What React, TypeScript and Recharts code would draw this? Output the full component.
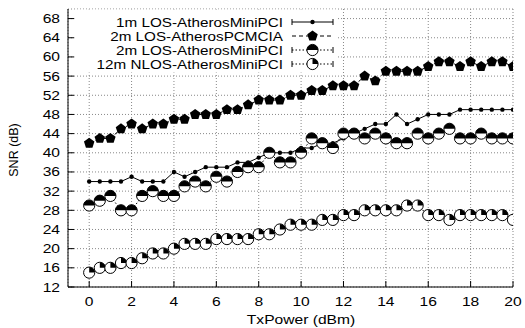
import React from 'react';
import { LineChart, Line, XAxis, YAxis, CartesianGrid } from 'recharts';

const txPower = [
  0, 0.5, 1, 1.5, 2, 2.5, 3, 3.5, 4, 4.5, 5, 5.5, 6, 6.5, 7, 7.5, 8, 8.5, 9, 9.5, 10,
  10.5, 11, 11.5, 12, 12.5, 13, 13.5, 14, 14.5, 15, 15.5, 16, 16.5, 17, 17.5, 18, 18.5, 19, 19.5, 20,
];
const los1mMiniPci = [
  34, 34, 34, 34, 35, 34, 34, 34, 36, 35, 36, 37, 37, 37, 38, 38, 39, 40, 40, 40, 41,
  41, 42, 42, 43, 44, 45, 46, 46, 48, 46, 47, 48, 48, 48, 49, 49, 49, 49, 49, 49,
];
const los2mPcmcia = [
  42, 43, 43, 45, 46, 45, 46, 46, 47, 47, 48, 48, 48, 49, 49, 50, 51, 51, 51, 52, 52,
  53, 53, 54, 54, 54, 56, 55, 57, 57, 57, 57, 58, 59, 59, 58, 59, 58, 59, 59, 58,
];
const los2mMiniPci = [
  29, 30, 31, 28, 28, 31, 32, 31, 31, 33, 34, 33, 35, 34, 36, 37, 37, 40, 38, 38, 40,
  43, 42, 41, 44, 44, 43, 44, 43, 42, 42, 44, 43, 44, 45, 43, 43, 44, 43, 43, 43,
];
const nlos12mMiniPci = [
  15, 16, 16, 17, 17, 18, 19, 19, 20, 21, 21, 21, 22, 22, 22, 22, 23, 23, 24, 25, 25,
  25, 26, 26, 27, 27, 28, 28, 28, 28, 29, 29, 27, 27, 26, 27, 27, 27, 27, 27, 26,
];
const xTicks = [0, 2, 4, 6, 8, 10, 12, 14, 16, 18, 20];
const yTicks = [12, 16, 20, 24, 28, 32, 36, 40, 44, 48, 52, 56, 60, 64, 68];
const seriesNames = [
  '1m LOS-AtherosMiniPCI',
  '2m LOS-AtherosPCMCIA',
  '2m LOS-AtherosMiniPCI',
  '12m NLOS-AtherosMiniPCI',
];

const W = 525;
const H = 328;
const FONT = '"Liberation Sans", Arial, sans-serif';
const SX = 1.25; // source image is stretched sideways, text too
const FS = 12.5;

const data = txPower.map((x, i) => ({
  x,
  a: los1mMiniPci[i],
  b: los2mPcmcia[i],
  c: los2mMiniPci[i],
  d: nlos12mMiniPci[i],
}));

// point shapes (gnuplot-ish)
const SmallDot = ({ cx, cy }: any) =>
  cx == null ? null : <circle cx={cx} cy={cy} r={2.2} fill="#000" />;

const Pentagon = ({ cx, cy }: any) => {
  if (cx == null) return null;
  const r = 5.5;
  const pts = [0, 1, 2, 3, 4]
    .map((k) => {
      const a = -Math.PI / 2 + (k * 2 * Math.PI) / 5;
      return `${cx + r * Math.cos(a)},${cy + r * Math.sin(a)}`;
    })
    .join(' ');
  return <polygon points={pts} fill="#000" />;
};

const HalfCircle = ({ cx, cy }: any) => {
  if (cx == null) return null;
  const r = 5.6;
  return (
    <g>
      <circle cx={cx} cy={cy} r={r} fill="#fff" stroke="#000" strokeWidth={1} />
      <path d={`M${cx - r},${cy} A${r},${r} 0 0 1 ${cx + r},${cy} Z`} fill="#000" />
    </g>
  );
};

const QuarterCircle = ({ cx, cy }: any) => {
  if (cx == null) return null;
  const r = 5.6;
  return (
    <g>
      <circle cx={cx} cy={cy} r={r} fill="#fff" stroke="#000" strokeWidth={1} />
      <path d={`M${cx},${cy} L${cx},${cy - r} A${r},${r} 0 0 1 ${cx + r},${cy} Z`} fill="#000" />
    </g>
  );
};

// ticks drawn inward, like gnuplot
const BottomTick = ({ x, y, payload }: any) => (
  <g>
    <line x1={x} x2={x} y1={y} y2={y - 6} stroke="#000" />
    <text
      transform={`translate(${x},${y + 19}) scale(${SX},1)`}
      textAnchor="middle"
      fontSize={FS}
      fontFamily={FONT}
      fill="#000"
    >
      {payload.value}
    </text>
  </g>
);
const TopTick = ({ x, y }: any) => <line x1={x} x2={x} y1={y} y2={y + 6} stroke="#000" />;
const LeftTick = ({ x, y, payload }: any) => (
  <g>
    <line x1={x} x2={x + 6} y1={y} y2={y} stroke="#000" />
    <text
      transform={`translate(${x - 8},${y + 4.5}) scale(${SX},1)`}
      textAnchor="end"
      fontSize={FS}
      fontFamily={FONT}
      fill="#000"
    >
      {payload.value}
    </text>
  </g>
);
const RightTick = ({ x, y }: any) => <line x1={x} x2={x - 6} y1={y} y2={y} stroke="#000" />;

const legendRows = [
  { y: 22, dash: undefined, Shape: SmallDot },
  { y: 36, dash: '4 3', Shape: Pentagon },
  { y: 50, dash: '1.5 2', Shape: HalfCircle },
  { y: 64, dash: '1.5 2', Shape: QuarterCircle },
];

function Overlay() {
  return (
    <svg width={W} height={H} style={{ position: 'absolute', left: 0, top: 0, pointerEvents: 'none' }}>
      <rect x={74.5} y={9.5} width={263} height={63} fill="#fff" />
      {legendRows.map((r, i) => (
        <g key={i}>
          <text
            transform={`translate(283,${r.y + 4.5}) scale(1.22,1)`}
            textAnchor="end"
            fontSize={12.5}
            fontFamily={FONT}
            fill="#000"
          >
            {seriesNames[i]}
          </text>
          <line x1={292} x2={333} y1={r.y} y2={r.y} stroke="#000" strokeDasharray={r.dash} />
          {i !== 1 && (
            <>
              <line x1={292} x2={292} y1={r.y - 3} y2={r.y + 3} stroke="#000" />
              <line x1={333} x2={333} y1={r.y - 3} y2={r.y + 3} stroke="#000" />
            </>
          )}
          <r.Shape cx={312.5} cy={r.y} />
        </g>
      ))}
      <text
        transform={`translate(18,150) rotate(-90)`}
        textAnchor="middle"
        fontSize={FS}
        fontFamily={FONT}
        fill="#000"
      >
        SNR (dB)
      </text>
      <text
        transform={`translate(301,324) scale(${SX},1)`}
        textAnchor="middle"
        fontSize={FS}
        fontFamily={FONT}
        fill="#000"
      >
        TxPower (dBm)
      </text>
    </svg>
  );
}

export default function App() {
  return (
    <div style={{ position: 'absolute', left: 0, top: 0, width: W, height: H, background: '#fff' }}>
      <LineChart width={W} height={H} data={data} margin={{ top: 9, right: 12, left: 0, bottom: 0 }}>
        <CartesianGrid stroke="#888" strokeDasharray="1 2" />
        <XAxis
          dataKey="x"
          type="number"
          domain={[-1, 20]}
          ticks={xTicks}
          interval={0}
          height={41}
          tickSize={0}
          tickMargin={0}
          axisLine={{ stroke: '#000' }}
          tickLine={false}
          tick={<BottomTick />}
          allowDataOverflow
        />
        <XAxis
          xAxisId="top"
          orientation="top"
          dataKey="x"
          type="number"
          domain={[-1, 20]}
          ticks={xTicks}
          interval={0}
          height={0}
          tickSize={0}
          tickMargin={0}
          axisLine={{ stroke: '#000' }}
          tickLine={false}
          tick={<TopTick />}
          allowDataOverflow
        />
        <YAxis
          type="number"
          domain={[12, 70]}
          ticks={yTicks}
          interval={0}
          width={68}
          tickSize={0}
          tickMargin={0}
          axisLine={{ stroke: '#000' }}
          tickLine={false}
          tick={<LeftTick />}
          allowDataOverflow
        />
        <YAxis
          yAxisId="right"
          orientation="right"
          type="number"
          domain={[12, 70]}
          ticks={yTicks}
          interval={0}
          width={0}
          tickSize={0}
          tickMargin={0}
          axisLine={{ stroke: '#000' }}
          tickLine={false}
          tick={<RightTick />}
          allowDataOverflow
        />
        <Line dataKey="a" name={seriesNames[0]} type="linear" stroke="#000" strokeWidth={1} dot={<SmallDot />} isAnimationActive={false} />
        <Line dataKey="b" name={seriesNames[1]} type="linear" stroke="#000" strokeWidth={1} strokeDasharray="4 3" dot={<Pentagon />} isAnimationActive={false} />
        <Line dataKey="c" name={seriesNames[2]} type="linear" stroke="#000" strokeWidth={1} strokeDasharray="1.5 2" dot={<HalfCircle />} isAnimationActive={false} />
        <Line dataKey="d" name={seriesNames[3]} type="linear" stroke="#000" strokeWidth={1} strokeDasharray="1.5 2" dot={<QuarterCircle />} isAnimationActive={false} />
      </LineChart>
      <Overlay />
    </div>
  );
}
